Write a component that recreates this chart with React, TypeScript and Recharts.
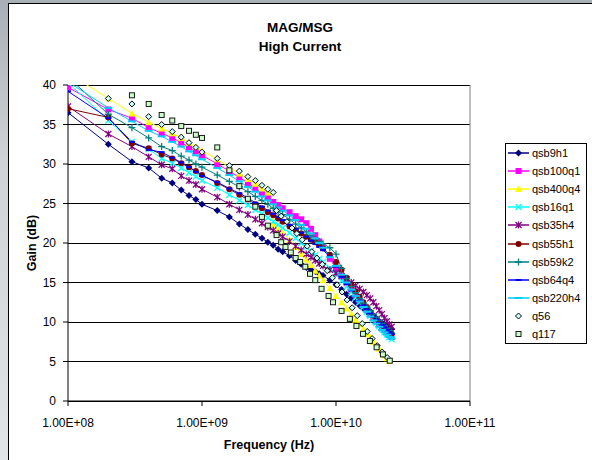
import React from "react";
import {
  LineChart,
  Line,
  XAxis,
  YAxis,
  CartesianGrid,
  Legend,
  ReferenceLine,
} from "recharts";

// shared frequency grid of the qsb devices (GHz)
const FREQ_GHZ = [
  0.1, 0.2, 0.3, 0.4, 0.5, 0.6, 0.7, 0.8, 0.9, 1.0,
  1.3, 1.6, 1.9, 2.2, 2.5, 2.8, 3.1, 3.4, 3.7, 4.0,
  4.5, 5, 5.5, 6, 6.5, 7, 7.5, 8,
  9, 10, 11, 12, 13, 14, 15, 16, 17, 18, 19, 20, 21, 22, 23, 24, 25, 26,
];

const QSB9H1 = [
  36.5, 32.5, 30.3, 29.5, 28.2, 27.6, 26.7, 26.0, 25.5, 24.9,
  24.1, 23.3, 22.4, 21.7, 21.1, 20.6, 20.1, 19.7, 19.2, 18.9,
  18.4, 17.8, 17.3, 16.9, 16.6, 16.4, 16.1, 15.9,
  15.3, 14.7, 14.1, 13.5, 13.0, 12.5, 12.1, 11.7, 11.3, 11.0, 10.7, 10.4, 10.1, 9.9, 9.7, 9.5, 9.3, 9.1,
];
const QSB100Q1 = [
  39.7, 36.9, 35.8, 34.6, 33.9, 33.3, 32.7, 32.1, 31.6, 31.1,
  30.0, 29.1, 28.3, 27.6, 26.9, 26.3, 25.7, 25.2, 24.8, 24.4,
  23.9, 23.4, 23.0, 22.5, 21.8, 21.0, 20.2, 19.4,
  18.0, 16.8, 15.8, 14.9, 14.1, 13.4, 12.7, 12.1, 11.5, 11.0, 10.5, 10.1, 9.7, 9.3, 9.0, 8.7, 8.4, 8.1,
];
const QSB400Q4 = [
  41.5, 38.3, 36.4, 35.3, 34.5, 33.9, 33.3, 32.7, 32.2, 31.7,
  30.6, 29.6, 28.8, 28.1, 27.5, 26.9, 26.4, 22.3, 21.7, 21.3,
  20.4, 19.5, 18.6, 17.9, 17.2, 16.5, 15.9, 15.3,
  14.3, 13.3, 12.5, 11.7, 11.0, 10.3, 9.7, 9.1, 8.5, 8.0, 7.5, 7.0, 6.6, 6.2, 5.8, 5.4, 5.1, null,
];
const QSB16Q1 = [
  40.3, 35.5, 32.8, 31.9, 30.7, 30.1, 29.5, 28.9, 28.4, 27.9,
  27.0, 26.1, 25.4, 24.8, 24.2, 23.7, 23.2, 22.7, 22.3, 21.9,
  21.3, 20.6, 20.0, 19.5, 19.0, 18.5, 18.0, 17.6,
  16.8, 16.0, 15.2, 14.5, 13.8, 13.1, 12.5, 11.9, 11.3, 10.8, 10.3, 9.9, 9.5, 9.1, 8.7, 8.4, 8.1, 7.8,
];
const QSB35H4 = [
  37.3, 33.8, 32.2, 30.9, 29.9, 29.4, 28.5, 27.9, 27.4, 26.8,
  25.8, 24.9, 24.2, 23.6, 23.0, 22.5, 22.0, 21.6, 21.2, 20.8,
  20.2, 19.6, 19.1, 18.6, 18.2, 17.8, 17.4, 17.1,
  16.6, 16.2, 15.8, 15.4, 15.0, 14.6, 14.2, 13.8, 13.4, 13.0, 12.5, 12.0, 11.5, 11.0, 10.5, 10.1, 9.7, 9.4,
];
const QSB55H1 = [
  37.0, 35.9, 32.6, 32.0, 31.2, 30.7, 30.1, 29.6, 29.1, 28.6,
  27.6, 26.8, 26.1, 25.5, 24.9, 24.4, 23.9, 23.5, 23.1, 22.7,
  22.1, 21.6, 21.2, 20.8, 20.4, 20.1, 19.7, 19.3,
  18.5, 17.6, 16.6, 15.6, 14.7, 13.9, 13.2, 12.5, 11.9, 11.3, 10.8, 10.4, 10.0, 9.6, 9.3, 9.0, 8.7, 8.5,
];
const QSB59K2 = [
  41.0, 36.3, 34.6, 33.3, 32.2, 31.7, 31.0, 30.5, 30.0, 29.6,
  28.6, 27.8, 27.1, 26.5, 25.9, 25.4, 24.9, 24.4, 24.0, 23.6,
  23.0, 22.4, 21.9, 21.4, 20.9, 20.5, 20.2, 19.9,
  19.4, 18.6, 16.8, 15.5, 14.5, 13.7, 13.0, 12.4, 11.9, 11.4, 11.0, 10.6, 10.2, 9.8, 9.5, 9.2, 8.9, 8.6,
];
const QSB64Q4 = [
  39.2, 35.8, 32.8, 31.8, 31.5, 30.8, 30.2, 29.6, 29.0, 28.5,
  27.7, 26.9, 26.3, 25.7, 25.1, 24.6, 24.1, 23.7, 23.3, 22.9,
  22.3, 21.8, 21.3, 20.8, 20.3, 19.9, 19.5, 19.1,
  18.3, 17.0, 15.7, 14.8, 14.0, 13.3, 12.7, 12.1, 11.6, 11.1, 10.7, 10.3, 9.9, 9.6, 9.3, 9.0, 8.7, 8.5,
];
const QSB220H4 = [
  40.4, 37.1, 35.4, 34.2, 33.5, 32.8, 32.2, 31.6, 31.1, 30.6,
  29.5, 28.6, 27.8, 27.1, 26.5, 25.9, 25.4, 24.9, 24.5, 24.1,
  23.5, 22.9, 22.3, 21.8, 21.2, 20.6, 20.0, 19.4,
  18.2, 17.1, 16.0, 15.0, 14.1, 13.3, 12.6, 11.9, 11.3, 10.7, 10.2, 9.8, 9.4, 9.0, 8.7, 8.4, 8.1, 7.9,
];

const Q56_FREQ_GHZ = [
  0.2, 0.3, 0.4, 0.5, 0.6, 0.7, 0.8, 0.9, 1.0, 1.3, 1.6, 1.9, 2.2, 2.5, 2.8, 3.1, 3.4,
  3.6, 3.9, 4.3, 4.7, 5.1, 5.6, 6.1, 6.6, 7.2, 7.9, 8.6, 9.4, 10.2, 11.1, 12.1, 13.2, 14.4, 15.7, 17.1,
  18.6, 20.3, 22.1, 24.1,
];
const Q56_GAIN = [
  38.3, 37.6, 36.0, 35.0, 34.1, 33.4, 32.7, 32.1, 31.5, 30.7, 29.8, 29.1, 28.4, 27.9, 27.3, 26.8, 26.4,
  24.1, 23.4, 22.7, 21.9, 21.2, 20.4, 19.6, 18.9, 18.1, 17.3, 16.5, 15.6, 14.7, 13.8, 12.8, 11.8, 10.8, 9.8, 8.8,
  7.9, 7.0, 6.2, 5.5,
];

const Q117_FREQ_GHZ = [
  0.3, 0.4, 0.5, 0.6, 0.7, 0.8, 0.9, 1.0, 1.3, 1.6, 1.9, 2.2, 2.5, 2.8, 3.1,
  3.6, 3.9, 4.2, 4.6, 5.0, 5.4, 5.9, 6.4, 7.0, 7.8, 8.8, 9.5, 11.0, 12.7, 14.2, 15.9, 17.9, 20.1, 22.4, 25.2,
];
const Q117_GAIN = [
  38.7, 37.6, 36.2, 35.5, 34.8, 34.2, 33.7, 33.3, 32.1, 29.2, 27.2, 25.6, 24.6, 23.3, 22.2,
  21.0, 20.1, 19.5, 18.8, 18.1, 17.6, 17.0, 16.1, 15.3, 14.2, 13.3, 12.5, 11.4, 10.4, 9.5, 8.5, 7.6, 6.8, 5.9, 5.1,
];

const X_TICKS = [1e8, 1e9, 1e10, 1e11];
const Y_TICKS = [0, 5, 10, 15, 20, 25, 30, 35, 40];

type MarkerKind =
  | "diamond"
  | "square"
  | "triangle"
  | "x"
  | "star"
  | "circle"
  | "plus"
  | "dash"
  | "bar"
  | "openDiamond"
  | "openSquare";

type Series = {
  name: string;
  freq: number[];
  gain: (number | null)[];
  color: string;
  marker: MarkerKind;
  line: boolean;
};

const SERIES: Series[] = [
  { name: "qsb9h1", freq: FREQ_GHZ, gain: QSB9H1, color: "#000080", marker: "diamond", line: true },
  { name: "qsb100q1", freq: FREQ_GHZ, gain: QSB100Q1, color: "#FF00FF", marker: "square", line: true },
  { name: "qsb400q4", freq: FREQ_GHZ, gain: QSB400Q4, color: "#FFFF00", marker: "triangle", line: true },
  { name: "qsb16q1", freq: FREQ_GHZ, gain: QSB16Q1, color: "#00FFFF", marker: "x", line: true },
  { name: "qsb35h4", freq: FREQ_GHZ, gain: QSB35H4, color: "#800080", marker: "star", line: true },
  { name: "qsb55h1", freq: FREQ_GHZ, gain: QSB55H1, color: "#800000", marker: "circle", line: true },
  { name: "qsb59k2", freq: FREQ_GHZ, gain: QSB59K2, color: "#008080", marker: "plus", line: true },
  { name: "qsb64q4", freq: FREQ_GHZ, gain: QSB64Q4, color: "#0000FF", marker: "dash", line: true },
  { name: "qsb220h4", freq: FREQ_GHZ, gain: QSB220H4, color: "#00CCFF", marker: "bar", line: true },
  { name: "q56", freq: Q56_FREQ_GHZ, gain: Q56_GAIN, color: "#CCFFFF", marker: "openDiamond", line: false },
  { name: "q117", freq: Q117_FREQ_GHZ, gain: Q117_GAIN, color: "#CCFFCC", marker: "openSquare", line: false },
];

const FONT = "'Liberation Sans', Arial, sans-serif";

function fmtSci(v: number) {
  const [m, e] = v.toExponential(2).split("e");
  const sign = e[0] === "-" ? "-" : "+";
  const digits = e.replace(/[+-]/, "").padStart(2, "0");
  return `${m}E${sign}${digits}`;
}

function Marker({
  kind,
  cx,
  cy,
  color,
}: {
  kind: MarkerKind;
  cx: number;
  cy: number;
  color: string;
}) {
  switch (kind) {
    case "diamond":
      return (
        <polygon
          points={`${cx},${cy - 3.5} ${cx + 3.5},${cy} ${cx},${cy + 3.5} ${cx - 3.5},${cy}`}
          fill={color}
        />
      );
    case "square":
      return <rect x={cx - 3} y={cy - 3} width={6} height={6} fill={color} />;
    case "triangle":
      return (
        <polygon
          points={`${cx},${cy - 3.5} ${cx + 3.5},${cy + 3} ${cx - 3.5},${cy + 3}`}
          fill={color}
        />
      );
    case "x":
      return (
        <path
          d={`M${cx - 3},${cy - 3}L${cx + 3},${cy + 3}M${cx - 3},${cy + 3}L${cx + 3},${cy - 3}`}
          stroke={color}
          strokeWidth={1.3}
        />
      );
    case "star":
      return (
        <path
          d={`M${cx - 3},${cy - 3}L${cx + 3},${cy + 3}M${cx - 3},${cy + 3}L${cx + 3},${cy - 3}M${cx},${cy - 3.5}L${cx},${cy + 3.5}`}
          stroke={color}
          strokeWidth={1.2}
        />
      );
    case "circle":
      return <circle cx={cx} cy={cy} r={3} fill={color} />;
    case "plus":
      return (
        <path
          d={`M${cx - 3.5},${cy}L${cx + 3.5},${cy}M${cx},${cy - 3.5}L${cx},${cy + 3.5}`}
          stroke={color}
          strokeWidth={1.3}
        />
      );
    case "dash":
      return <rect x={cx - 3} y={cy - 1} width={6} height={2} fill={color} />;
    case "bar":
      return <rect x={cx - 4} y={cy - 1} width={8} height={2} fill={color} />;
    case "openDiamond":
      return (
        <polygon
          points={`${cx},${cy - 3} ${cx + 3},${cy} ${cx},${cy + 3} ${cx - 3},${cy}`}
          fill={color}
          stroke="#000"
          strokeWidth={1}
        />
      );
    case "openSquare":
      return (
        <rect
          x={cx - 2.5}
          y={cy - 2.5}
          width={5}
          height={5}
          fill={color}
          stroke="#1a1a1a"
          strokeWidth={1}
        />
      );
  }
  return null;
}

function LegendBox() {
  return (
    <div
      style={{
        border: "1px solid #000",
        background: "#fff",
        padding: "0 0 0 2px",
        fontFamily: FONT,
        fontSize: 11,
        color: "#000",
      }}
    >
      {SERIES.map((s) => (
        <div
          key={s.name}
          style={{ display: "flex", alignItems: "center", height: 18.1 }}
        >
          <svg width={21} height={12} style={{ marginRight: 3 }}>
            {s.line && (
              <line x1={0} y1={6} x2={21} y2={6} stroke={s.color} strokeWidth={1.5} />
            )}
            <Marker kind={s.marker} cx={10.5} cy={6} color={s.color} />
          </svg>
          <span>{s.name}</span>
        </div>
      ))}
    </div>
  );
}

export default function App() {
  return (
    <div
      style={{
        position: "absolute",
        left: 0,
        top: 0,
        width: 592,
        height: 460,
        overflow: "hidden",
        background: "linear-gradient(180deg, #a9afb6 0%, #cfd3d7 35%, #e2e4e6 100%)",
        fontFamily: FONT,
      }}
    >
      {/* white chart area */}
      <div
        style={{
          position: "absolute",
          left: 8,
          top: 3,
          width: 600,
          height: 470,
          background: "#fff",
          borderLeft: "1px solid #000",
          borderTop: "1px solid #000",
        }}
      />

      <div style={{ position: "absolute", left: 0, top: 0 }}>
        <LineChart
          width={592}
          height={460}
          margin={{ top: 85, right: 122, bottom: 29, left: 28 }}
          style={{ fontFamily: FONT }}
        >
          <CartesianGrid horizontal vertical={false} stroke="#000" shapeRendering="crispEdges" />
          <XAxis
            type="number"
            dataKey="f"
            scale="log"
            domain={[1e8, 1e11]}
            ticks={X_TICKS}
            interval={0}
            allowDataOverflow
            tickFormatter={fmtSci}
            height={30}
            tickSize={5}
            tickMargin={12}
            stroke="#000"
            tick={{ fill: "#000", fontSize: 12 }}
            label={{
              value: "Frequency (Hz)",
              position: "bottom",
              offset: 9,
              fill: "#000",
              fontSize: 12.5,
              fontWeight: "bold",
            }}
          />
          <YAxis
            type="number"
            domain={[0, 40]}
            ticks={Y_TICKS}
            interval={0}
            allowDataOverflow
            width={40}
            tickSize={5}
            tickMargin={7}
            stroke="#000"
            tick={{ fill: "#000", fontSize: 12 }}
          />
          <ReferenceLine x={1e11} stroke="#808080" />
          {SERIES.map((s) => {
            const data = s.freq
              .map((f, i) => ({ f: f * 1e9, g: s.gain[i] }))
              .filter((p) => p.g != null);
            return (
              <Line
                key={s.name}
                name={s.name}
                data={data}
                dataKey="g"
                type="linear"
                stroke={s.line ? s.color : "none"}
                strokeWidth={1}
                activeDot={false}
                isAnimationActive={false}
                dot={(p: any) =>
                  p.cx == null || p.cy == null ? (
                    <g key={`${s.name}-${p.index}`} />
                  ) : (
                    <Marker
                      key={`${s.name}-${p.index}`}
                      kind={s.marker}
                      cx={p.cx}
                      cy={p.cy}
                      color={s.color}
                    />
                  )
                }
              />
            );
          })}
          <Legend
            layout="horizontal"
            verticalAlign="middle"
            align="center"
            wrapperStyle={{ left: 505, top: 143, width: 82 }}
            content={() => <LegendBox />}
          />
        </LineChart>
      </div>

      {/* title */}
      <div
        style={{
          position: "absolute",
          left: 8,
          top: 18,
          width: 584,
          textAlign: "center",
          fontWeight: "bold",
          fontSize: 13.5,
          lineHeight: "19px",
          color: "#000",
        }}
      >
        <div>MAG/MSG</div>
        <div>High Current</div>
      </div>

      {/* y axis title */}
      <div
        style={{
          position: "absolute",
          left: 32 - 60,
          top: 243 - 8,
          width: 120,
          height: 16,
          lineHeight: "16px",
          textAlign: "center",
          fontWeight: "bold",
          fontSize: 12.5,
          color: "#000",
          transform: "rotate(-90deg)",
        }}
      >
        Gain (dB)
      </div>
    </div>
  );
}
